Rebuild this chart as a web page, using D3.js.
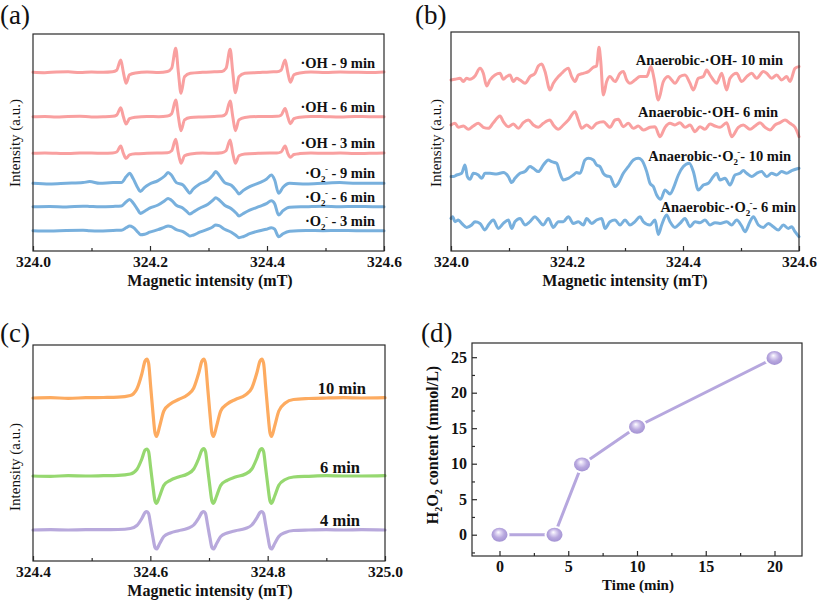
<!DOCTYPE html>
<html><head><meta charset="utf-8">
<script src="https://cdn.jsdelivr.net/npm/d3@7"></script>
<style>
body{margin:0;background:#fff}
svg text{font-family:"Liberation Serif","Times New Roman",Times,"DejaVu Serif",serif !important;}
</style>
</head><body>
<script>
// ---------------- DATA ----------------
const fieldA_OH = [324.000,324.020,324.040,324.060,324.080,324.100,324.120,
 324.136,324.143,324.150,324.1545,324.159,324.165,324.175,
 324.195,324.215,
 324.230,324.237,324.244,324.2485,324.253,324.259,324.269,
 324.290,324.310,
 324.323,324.330,324.337,324.3415,324.346,324.352,324.362,
 324.385,324.405,
 324.417,324.424,324.431,324.4355,324.440,324.446,324.456,
 324.475,324.500,324.525,324.550,324.575,324.600];
const OH_9min = [0,-0.4,0.3,0.5,-0.3,0.2,0,
 0.5,2,12.3,0,-11,-2.5,-0.6,
 0.3,-0.2,
 0.8,4,24,0,-21,-4.5,-1,
 0,0.5,
 0.8,4,23,0,-20.5,-4.5,-1,
 -0.3,0.4,
 0.5,2,12.3,0,-10,-2.5,-0.6,
 0.2,-0.3,0.3,0,-0.2,0.3];
const OH_6min = [0,0.3,-0.3,0.2,0.4,-0.2,0,
 0.4,1.6,9,0,-7.3,-2,-0.5,
 0.3,0,
 0.6,3,16.7,0,-14,-3.2,-0.8,
 -0.2,0.3,
 0.6,3,15.7,0,-14,-3.2,-0.8,
 0.2,0.3,
 0.4,1.5,8.3,0,-7,-2,-0.5,
 0.3,0,-0.3,0.2,0,0];
const OH_3min = [0,0.3,0,-0.3,0.2,0.3,0,
 0.3,1.3,7.3,0,-5,-1.5,-0.4,
 0,0.3,
 0.5,2.5,14,0,-10,-2.5,-0.6,
 0.2,0,
 0.5,2.5,13.3,0,-10,-2.5,-0.6,
 0,0.3,
 0.3,1.3,7.3,0,-4,-1.2,-0.3,
 0.2,0,0.3,-0.2,0,0.2];
const fieldA_O2 = [324.0000,324.0285,324.0570,324.0855,324.0969,324.1140,324.1368,324.1510,
 324.1595,324.1652,324.1709,324.1795,324.1835,324.1909,324.1994,
 324.2137,324.2251,324.2308,324.2365,324.2450,
 324.2564,324.2632,324.2678,324.2735,324.2849,
 324.2991,324.3077,324.3123,324.3179,324.3276,
 324.3390,324.3476,324.3521,324.3590,324.3704,
 324.3875,324.3989,324.4074,324.4131,324.4199,324.4274,324.4387,
 324.4672,324.4957,324.5242,324.5527,324.5812,324.6000];
const O2_9min = [0,-0.7,0,0.7,1.7,0,0.7,0.7, 6.7,10,5,-5,-8.3,-4,-0.7, 2.7,7.3,10.7,8.3,0.7,
 -1.7,-6.7,-10,-6,-0.7, 3.3,8.3,11.7,8.3,0.7, -2,-7.3,-10.7,-7.3,-3.3, 0.7,4,8.3,3.3,-10,-4,0,
 -0.7,0,0.7,0,0,0];
const O2_6min = [0,0.3,-0.3,0.5,0.3,0,0.3,0.7, 5,7.3,4,-3.5,-6.7,-4.5,-1.5, 1.7,6,8.3,6.5,1.5,
 -1.5,-5,-7.3,-5.5,-1.5, 2.5,6.5,9,7,1.5, -2,-6.5,-9.3,-7,-3.5, 0.3,3,6,3,-8.3,-4,-0.5,
 0,0.5,0,0.3,0,0];
const O2_3min = [0,-0.3,0.3,0.5,0,-0.3,0.3,0.5, 3,4.7,3.5,-1.5,-4,-3.5,-1.5, 1,3.5,4.7,4,1,
 -1,-3.5,-5.3,-4.5,-1.5, 1.5,4,5.7,5,1.5, -1.5,-5,-7,-6,-3, 0,1.5,3,1.5,-6,-3,-0.5,
 0.3,0,0.3,0,0,0];
const offsetsA = [178.7,134.3,97.7,67.7,44.3,20.3];

const anaOH_10min = [[324.000,-1.7],[324.0069,-1],[324.0155,0],[324.0213,-3.3],[324.0270,0],[324.0328,-1],[324.0414,2.3],[324.0500,10],[324.0557,5],[324.0615,-7.7],[324.0672,-1.7],[324.0759,3.3],[324.0845,5],[324.0902,-1],[324.0960,1.7],[324.1017,3.3],[324.1075,-3.3],[324.1132,0],[324.1190,-1.7],[324.1276,-5],[324.1362,1.7],[324.1448,5],[324.1506,12.3],[324.1563,14.3],[324.1621,6.7],[324.1707,-11.7],[324.1764,-5],[324.1851,1.7],[324.1908,5],[324.1966,8.3],[324.2023,10],[324.2080,1.7],[324.2138,-3.3],[324.2195,3.3],[324.2282,5],[324.2368,6.7],[324.2454,11],[324.2511,12.3],[324.2552,31],[324.2580,18.3],[324.2626,-16.7],[324.2684,-3.3],[324.2741,1.7],[324.2828,-3.3],[324.2914,5],[324.2971,6.7],[324.3029,-1.7],[324.3086,-5],[324.3172,-1.7],[324.3259,1.7],[324.3374,1.7],[324.3448,11.7],[324.3500,0],[324.3575,-21.7],[324.3661,-3.3],[324.3747,1.7],[324.3805,-1.7],[324.3862,-5],[324.3948,1.7],[324.4034,3.3],[324.4121,-5],[324.4178,-11.7],[324.4264,0],[324.4351,1.7],[324.4408,8.3],[324.4466,3.3],[324.4523,-1.7],[324.4580,-5],[324.4667,5],[324.4753,-11.7],[324.4810,0],[324.4925,5],[324.5011,-3.3],[324.5098,1.7],[324.5184,5],[324.5270,0],[324.5385,6.7],[324.5443,5],[324.5529,0],[324.5615,3.3],[324.5701,-1.7],[324.5787,1.7],[324.5845,-3.3],[324.5931,10],[324.600,11.7]];
const anaOH_6min = [[324.000,0],[324.0069,1.7],[324.0126,-2.3],[324.0213,-1],[324.0299,-4.3],[324.0385,-1],[324.0471,1.7],[324.0557,-2.3],[324.0644,-3.3],[324.0730,2.3],[324.0845,9],[324.0902,3.3],[324.0989,-1.7],[324.1075,1],[324.1161,-3.3],[324.1247,2.3],[324.1333,5],[324.1420,0],[324.1506,-2.3],[324.1592,1.7],[324.1707,5],[324.1764,0],[324.1851,-4.3],[324.1937,0],[324.2023,5],[324.2138,13.3],[324.2195,5],[324.2253,-3.3],[324.2339,0],[324.2425,-3.3],[324.2511,1.7],[324.2626,3.3],[324.2741,-2.3],[324.2828,5],[324.2885,5.7],[324.2971,-1.7],[324.3057,1.7],[324.3144,-3.3],[324.3230,-1],[324.3316,-5],[324.3431,-2.3],[324.3517,-1.7],[324.3603,-11.7],[324.3690,-2.3],[324.3776,1.7],[324.3862,0],[324.3948,2.3],[324.4034,-2.3],[324.4121,0],[324.4207,-6.7],[324.4293,-1.7],[324.4379,-4.3],[324.4466,1],[324.4552,-1],[324.4638,-2.3],[324.4753,2.3],[324.4839,-11.7],[324.4954,-2.3],[324.5040,0],[324.5155,-4.3],[324.5241,-1],[324.5328,2.3],[324.5414,-2.3],[324.5500,-5],[324.5586,0],[324.5672,2.3],[324.5759,5],[324.5845,1.7],[324.5931,-2.3],[324.600,-11.7]];
const anaO2_10min = [[324.000,-3.3],[324.0040,-3.3],[324.0098,-1.7],[324.0184,0],[324.0241,8.3],[324.0282,-3.3],[324.0328,-6],[324.0385,0],[324.0471,-1.7],[324.0529,-5],[324.0586,0],[324.0672,0],[324.0787,-0.7],[324.0902,0.7],[324.0989,-3.3],[324.1046,-9.3],[324.1103,-5],[324.1190,0],[324.1276,1.7],[324.1362,6.7],[324.1420,5],[324.1506,1.7],[324.1592,8.3],[324.1678,13.3],[324.1736,11.7],[324.1822,10],[324.1879,0],[324.1937,-6.7],[324.2023,-5],[324.2109,-1.7],[324.2167,0.7],[324.2224,0],[324.2310,13.3],[324.2368,15],[324.2454,13.3],[324.2511,8.3],[324.2569,6.7],[324.2626,0],[324.2684,-2.7],[324.2741,-3.3],[324.2828,-13.3],[324.2885,-10],[324.2971,0],[324.3057,6.7],[324.3144,13.3],[324.3230,15],[324.3287,13.3],[324.3374,1.7],[324.3431,-10],[324.3489,-13.3],[324.3546,-21.7],[324.3615,-26],[324.3690,-16.7],[324.3776,-20.7],[324.3845,-13.3],[324.3920,-1.7],[324.4006,6.7],[324.4109,10],[324.4178,1.7],[324.4264,-16.7],[324.4351,-11.7],[324.4437,-10],[324.4523,-3.3],[324.4580,0],[324.4638,-6.7],[324.4724,-5],[324.4810,-11.7],[324.4897,-1.7],[324.4983,0],[324.5040,2.7],[324.5098,0],[324.5184,-3.3],[324.5270,0],[324.5356,1.7],[324.5443,-3.3],[324.5529,0],[324.5615,-1.7],[324.5701,1.7],[324.5787,0],[324.5874,2.7],[324.600,5]];
const anaO2_6min = [[324.000,3.3],[324.0029,5],[324.0069,0],[324.0126,1.7],[324.0184,-1.7],[324.0270,-5.7],[324.0356,-3.3],[324.0414,0],[324.0500,-1.7],[324.0586,-8.3],[324.0644,-3.3],[324.0730,1.7],[324.0816,-6.7],[324.0902,-1.7],[324.0989,1.7],[324.1046,-6.7],[324.1103,0],[324.1190,3.3],[324.1276,-3.3],[324.1362,0],[324.1448,5],[324.1506,1.7],[324.1592,-3.3],[324.1678,3.3],[324.1764,-5.7],[324.1851,0],[324.1937,0],[324.2023,5],[324.2109,-1.7],[324.2195,0],[324.2282,-3.3],[324.2339,3.3],[324.2425,-1.7],[324.2511,1.7],[324.2598,3.3],[324.2655,-6.7],[324.2741,0],[324.2828,1.7],[324.2914,-3.3],[324.3000,1.7],[324.3086,-3.3],[324.3172,0],[324.3259,5],[324.3316,0],[324.3431,-3.3],[324.3517,1.7],[324.3575,-12.7],[324.3632,-3.3],[324.3718,6.7],[324.3776,0],[324.3862,-5.7],[324.3948,-1.7],[324.4034,3.3],[324.4121,-5],[324.4207,0],[324.4293,-1],[324.4379,1.7],[324.4466,-3.3],[324.4552,-1],[324.4638,-1.7],[324.4753,0],[324.4839,-3.3],[324.4925,1.7],[324.5011,-4.3],[324.5069,-10],[324.5155,0],[324.5213,5],[324.5299,-3.3],[324.5385,-5.7],[324.5471,-1.7],[324.5557,-5],[324.5644,-8.3],[324.5730,-3.3],[324.5816,-6.7],[324.5874,-5],[324.5931,-10],[324.600,-15]];
const offsetsB = [172.7,126,77.7,29.3];

const fieldC = [324.400,324.430,324.460,324.490,324.520,324.545,
 324.566,324.577,324.5855,324.591,324.594,324.597,324.6005,324.6045,324.608,324.6105,324.616,324.623,324.634,324.648,
 324.663,324.674,324.6825,324.688,324.691,324.694,324.6975,324.7015,324.705,324.7075,324.713,324.720,324.731,324.745,
 324.762,324.773,324.7815,324.787,324.790,324.793,324.7965,324.8005,324.804,324.8065,324.812,324.819,324.830,324.844,
 324.870,324.900,324.930,324.960,325.000];
const C_10min = [0,0.3,-0.3,0.3,0.5,0.8,
 2.5,9,24,37,39,35,12,-15,-35,-38.5,-28,-13,-6,-1.5,
 3,10,25,37,39,35,12,-15,-35,-38.5,-28,-13,-6,-1.5,
 3,10,25,37,39,35,12,-15,-35,-38.5,-28,-13,-5,-1.5,
 -0.5,0,0.3,0,0.3];
const C_6min = [0,-0.3,0.3,0,0.3,0.6,
 2,6.5,17,26,27,24.5,8.5,-10.5,-25,-27.3,-20,-9.3,-4.3,-1,
 2,7,17.5,26,27.3,24.5,8.5,-10.5,-25,-27.3,-20,-9.3,-4.3,-1,
 2,7,17.5,26,27.3,24.5,8.5,-10.5,-25,-27.3,-20,-9.3,-3.5,-1,
 -0.3,0.3,0,0,0.3];
const C_4min = [0,0.3,0,0.3,0.3,0.5,
 1.5,4.5,11.5,17.5,18.3,16.5,5.5,-7.5,-17.5,-19,-13.5,-6.5,-3,-0.7,
 1.5,5,12,17.5,18.5,16.5,5.5,-7.5,-17.5,-19,-13.5,-6.5,-3,-0.7,
 1.5,5,12,17.5,18.5,16.5,5.5,-7.5,-17.5,-19,-13.5,-6.5,-2.5,-0.5,
 0,0.3,0,0.3,0];
const offsetsC = [163,85,31];

const timeMin = [0,4,6,10,20];
const h2o2 = [0,0,9.9,15.2,24.9];

const ticksAB = [324.0,324.2,324.4,324.6], minorAB = [324.1,324.3,324.5];
const ticksC = [324.4,324.6,324.8,325.0], minorC = [324.5,324.7,324.9];
const ticksDx = [0,5,10,15,20], minorDx = [2.5,7.5,12.5,17.5];
const ticksDy = [0,5,10,15,20,25], minorDy = [-2.5,2.5,7.5,12.5,17.5,22.5];

const O2m = [{t:"·O"},{t:"2",s:"sub"},{t:"-",s:"sup"}];
const labelsA = [[{t:"·OH - 9 min"}],[{t:"·OH - 6 min"}],[{t:"·OH - 3 min"}],
 [...O2m,{t:" - 9 min"}],[...O2m,{t:" - 6 min"}],[...O2m,{t:" - 3 min"}]];
const labelsB = [[{t:"Anaerobic-·OH- 10 min"}],[{t:"Anaerobic-·OH- 6 min"}],
 [{t:"Anaerobic-"},...O2m,{t:"- 10 min"}],[{t:"Anaerobic-"},...O2m,{t:"- 6 min"}]];
const labelsC = [[{t:"10 min"}],[{t:"6 min"}],[{t:"4 min"}]];
const titleDy = [{t:"H"},{t:"2",s:"sub"},{t:"O"},{t:"2",s:"sub"},{t:" content (mmol/L)"}];

// ---------------- DRAWING ----------------
const PINK = "#f9a0a0", BLUE = "#78b0dd", ORANGE = "#fdab60", GREEN = "#96d870", PURPLE = "#b8a9dc", DLINE = "#b6a7de";
const AX = "#2a2a2a";

const svg = d3.select("body").append("svg").attr("width",817).attr("height",600);
svg.append("rect").attr("width",817).attr("height",600).attr("fill","#fff");

function frame(b){
  svg.append("rect").attr("x",b.l).attr("y",b.t).attr("width",b.r-b.l).attr("height",b.b-b.t)
    .attr("fill","none").attr("stroke",AX).attr("stroke-width",1.2);
}
function xAxis(b,x,major,minor,fmt,size){
  const g = svg.append("g").attr("transform",`translate(0,${b.b})`)
    .call(d3.axisBottom(x).tickValues(major).tickFormat(fmt).tickSizeInner(-5).tickSizeOuter(0).tickPadding(5));
  g.select(".domain").remove();
  g.selectAll("line").attr("stroke",AX).attr("stroke-width",1.2);
  g.selectAll("text").attr("font-weight","bold").attr("font-size",size).attr("fill","#111");
  const m = svg.append("g").attr("transform",`translate(0,${b.b})`)
    .call(d3.axisBottom(x).tickValues(minor).tickFormat("").tickSizeInner(-3).tickSizeOuter(0));
  m.select(".domain").remove();
  m.selectAll("line").attr("stroke",AX).attr("stroke-width",1.2);
}
function txt(x,y,s,size,opts={}){
  const t = svg.append("text").attr("x",x).attr("y",y)
    .attr("font-size",size).attr("font-weight",opts.weight||"bold").attr("fill","#111")
    .attr("text-anchor",opts.anchor||"start");
  if(opts.rotate) t.attr("transform",`rotate(-90,${x},${y})`);
  if(typeof s === "string"){ t.text(s); return t; }
  let shift = 0;
  s.forEach(p=>{
    const ts = t.append("tspan").text(p.t);
    let target = 0;
    if(p.s==="sub"){ target = size*0.28; ts.attr("font-size",size*0.62); }
    if(p.s==="sup"){ target = -size*0.42; ts.attr("font-size",size*0.62).attr("dx",-size*0.05); }
    if(target!==shift){ ts.attr("dy",target-shift); shift = target; }
  });
  return t;
}
function spectra(x,y,list){
  list.forEach(s=>{
    const line = d3.line().x(d=>x(d[0])).y(d=>y(d[1]+s.off)).curve(d3.curveMonotoneX);
    svg.append("path").datum(s.pts).attr("d",line).attr("fill","none")
      .attr("stroke",s.color).attr("stroke-width",s.w||3).attr("stroke-linejoin","round").attr("stroke-linecap","round");
  });
}
const zipF = (f,v)=>f.map((d,i)=>[d,v[i]]);
const fmt1 = d3.format(".1f");

// ----- Panel (a)
{
  const b = {l:33,r:384,t:34,b:251};
  const x = d3.scaleLinear().domain([324.0,324.6]).range([b.l,b.r]);
  const y = d3.scaleLinear().domain([0,217]).range([b.b,b.t]);
  spectra(x,y,[
    {pts:zipF(fieldA_OH,OH_9min),off:offsetsA[0],color:PINK},
    {pts:zipF(fieldA_OH,OH_6min),off:offsetsA[1],color:PINK},
    {pts:zipF(fieldA_OH,OH_3min),off:offsetsA[2],color:PINK},
    {pts:zipF(fieldA_O2,O2_9min),off:offsetsA[3],color:BLUE},
    {pts:zipF(fieldA_O2,O2_6min),off:offsetsA[4],color:BLUE},
    {pts:zipF(fieldA_O2,O2_3min),off:offsetsA[5],color:BLUE}]);
  frame(b);
  xAxis(b,x,ticksAB,minorAB,fmt1,15.5);
  const ly = [68,112,148,178,202,226];
  labelsA.forEach((l,i)=>txt(375,ly[i],l,14.5,{anchor:"end"}));
  txt(210,286,"Magnetic intensity (mT)",16,{anchor:"middle"});
  txt(20,143,"Intensity (a.u.)",15,{anchor:"middle",rotate:true,weight:"normal"});
  txt(0,24,"(a)",27,{weight:"normal"});
}
// ----- Panel (b)
{
  const b = {l:451,r:799,t:32,b:251};
  const x = d3.scaleLinear().domain([324.0,324.6]).range([b.l,b.r]);
  const y = d3.scaleLinear().domain([0,219]).range([b.b,b.t]);
  spectra(x,y,[
    {pts:anaOH_10min,off:offsetsB[0],color:PINK},
    {pts:anaOH_6min,off:offsetsB[1],color:PINK},
    {pts:anaO2_10min,off:offsetsB[2],color:BLUE},
    {pts:anaO2_6min,off:offsetsB[3],color:BLUE}]);
  frame(b);
  xAxis(b,x,ticksAB,minorAB,fmt1,15.5);
  const lx = [783,778,791,796], ly = [65,117,161,212];
  labelsB.forEach((l,i)=>txt(lx[i],ly[i],l,14.5,{anchor:"end"}));
  txt(625,286,"Magnetic intensity (mT)",16,{anchor:"middle"});
  txt(441,143,"Intensity (a.u.)",15,{anchor:"middle",rotate:true,weight:"normal"});
  txt(415,24,"(b)",27,{weight:"normal"});
}
// ----- Panel (c)
{
  const b = {l:33,r:385,t:345,b:561};
  const x = d3.scaleLinear().domain([324.4,325.0]).range([b.l,b.r]);
  const y = d3.scaleLinear().domain([0,216]).range([b.b,b.t]);
  spectra(x,y,[
    {pts:zipF(fieldC,C_10min),off:offsetsC[0],color:ORANGE,w:3.2},
    {pts:zipF(fieldC,C_6min),off:offsetsC[1],color:GREEN,w:3.2},
    {pts:zipF(fieldC,C_4min),off:offsetsC[2],color:PURPLE,w:3.2}]);
  frame(b);
  xAxis(b,x,ticksC,minorC,fmt1,15.5);
  const lx = [366,360,360], ly = [394,473,526];
  labelsC.forEach((l,i)=>txt(lx[i],ly[i],l,16.5,{anchor:"end"}));
  txt(210,596,"Magnetic intensity (mT)",16,{anchor:"middle"});
  txt(20,467,"Intensity (a.u.)",15,{anchor:"middle",rotate:true,weight:"normal"});
  txt(0,342,"(c)",27,{weight:"normal"});
}
// ----- Panel (d)
{
  const b = {l:472,r:802,t:343,b:556};
  const x = d3.scaleLinear().domain([-2,22]).range([b.l,b.r]);
  const y = d3.scaleLinear().domain([-3,27]).range([b.b,b.t]);
  frame(b);
  xAxis(b,x,ticksDx,minorDx,d3.format("d"),16);
  const gy = svg.append("g").attr("transform",`translate(${b.l},0)`)
    .call(d3.axisLeft(y).tickValues(ticksDy).tickFormat(d3.format("d")).tickSizeInner(-5).tickSizeOuter(0).tickPadding(5));
  gy.select(".domain").remove();
  gy.selectAll("line").attr("stroke",AX).attr("stroke-width",1.2);
  gy.selectAll("text").attr("font-weight","bold").attr("font-size",16).attr("fill","#111");
  const gym = svg.append("g").attr("transform",`translate(${b.l},0)`)
    .call(d3.axisLeft(y).tickValues(minorDy).tickFormat("").tickSizeInner(-3).tickSizeOuter(0));
  gym.select(".domain").remove();
  gym.selectAll("line").attr("stroke",AX).attr("stroke-width",1.2);

  const defs = svg.append("defs");
  const rg = defs.append("radialGradient").attr("id","ball").attr("cx","50%").attr("cy","45%").attr("r","55%").attr("fx","42%").attr("fy","32%");
  rg.append("stop").attr("offset","0%").attr("stop-color","#ffffff");
  rg.append("stop").attr("offset","22%").attr("stop-color","#e4dcf5");
  rg.append("stop").attr("offset","60%").attr("stop-color","#b9a9df");
  rg.append("stop").attr("offset","100%").attr("stop-color","#a392d3");

  const pts = timeMin.map((t,i)=>[t,h2o2[i]]);
  svg.append("path").datum(pts).attr("d",d3.line().x(d=>x(d[0])).y(d=>y(d[1])))
    .attr("fill","none").attr("stroke",DLINE).attr("stroke-width",3);
  svg.selectAll(".ball").data(pts).enter().append("ellipse")
    .attr("cx",d=>x(d[0])).attr("cy",d=>y(d[1])).attr("rx",8).attr("ry",7)
    .attr("fill","url(#ball)").attr("stroke","#fff").attr("stroke-width",4).attr("paint-order","stroke");
  txt(638,590,"Time (min)",15,{anchor:"middle"});
  txt(438,445,titleDy,16,{anchor:"middle",rotate:true});
  txt(421,342,"(d)",27,{weight:"normal"});
}
</script>
</body></html>
